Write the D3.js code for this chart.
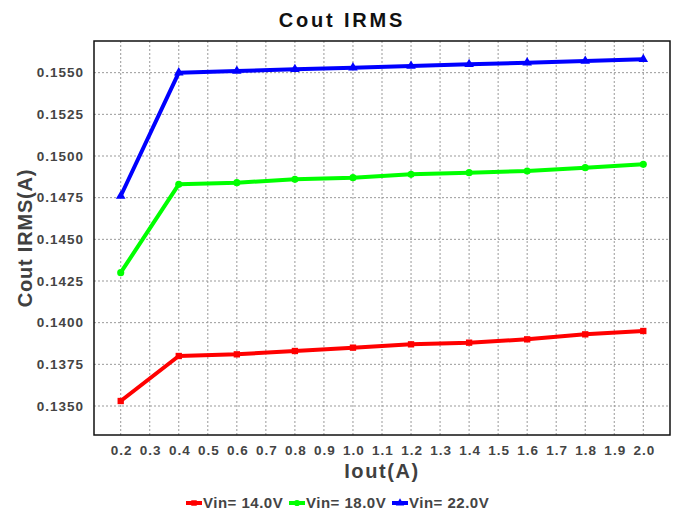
<!DOCTYPE html>
<html>
<head>
<meta charset="utf-8">
<script src="https://cdn.jsdelivr.net/npm/d3@7"></script>
<style>
  body { margin: 0; background: #fff; }
  text { font-family: "Liberation Sans", Arial, sans-serif; font-weight: bold; }
</style>
</head>
<body>
<svg id="chart" width="678" height="515"></svg>
<script>
// Chart data
const iout     = [0.2, 0.4, 0.6, 0.8, 1.0, 1.2, 1.4, 1.6, 1.8, 2.0];
const vin14    = [0.1353, 0.1380, 0.1381, 0.1383, 0.1385, 0.1387, 0.1388, 0.1390, 0.1393, 0.1395];
const vin18    = [0.1430, 0.1483, 0.1484, 0.1486, 0.1487, 0.1489, 0.1490, 0.1491, 0.1493, 0.1495];
const vin22    = [0.1476, 0.1550, 0.1551, 0.1552, 0.1553, 0.1554, 0.1555, 0.1556, 0.1557, 0.1558];
const xTicks   = [0.2, 0.3, 0.4, 0.5, 0.6, 0.7, 0.8, 0.9, 1.0, 1.1, 1.2, 1.3, 1.4, 1.5, 1.6, 1.7, 1.8, 1.9, 2.0];
const yTicks   = [0.1350, 0.1375, 0.1400, 0.1425, 0.1450, 0.1475, 0.1500, 0.1525, 0.1550];
const seriesNames = ['Vin= 14.0V', 'Vin= 18.0V', 'Vin= 22.0V'];

const series = [
  {name: seriesNames[0], values: vin14, color: '#ff0000', symbol: d3.symbolSquare},
  {name: seriesNames[1], values: vin18, color: '#00ff00', symbol: d3.symbolCircle},
  {name: seriesNames[2], values: vin22, color: '#0000ff', symbol: d3.symbolTriangle}
];

// plot frame
const frame = {left: 94, right: 670, top: 41, bottom: 435};

const svg = d3.select('#chart');

const xScale = d3.scaleLinear().domain([0.108, 2.092]).range([frame.left, frame.right]);
const yScale = d3.scaleLinear().domain([0.13326, 0.15690]).range([frame.bottom, frame.top]);

// grid lines
const grid = svg.append('g');
grid.selectAll('line.vx').data(xTicks).enter().append('line')
    .attr('x1', d => xScale(d)).attr('x2', d => xScale(d))
    .attr('y1', frame.top).attr('y2', frame.bottom)
    .attr('stroke', '#999').attr('stroke-width', 1).attr('stroke-dasharray', '2,2');
grid.selectAll('line.hy').data(yTicks).enter().append('line')
    .attr('x1', frame.left).attr('x2', frame.right)
    .attr('y1', d => yScale(d)).attr('y2', d => yScale(d))
    .attr('stroke', '#999').attr('stroke-width', 1).attr('stroke-dasharray', '2,2');

// axes (labels only, frame drawn separately)
const xAxis = d3.axisBottom(xScale).tickValues(xTicks).tickSize(0).tickPadding(10)
    .tickFormat(d3.format('.1f'));
const yAxis = d3.axisLeft(yScale).tickValues(yTicks).tickSize(0).tickPadding(10)
    .tickFormat(d3.format('.4f'));

const gx = svg.append('g').attr('transform', `translate(0,${frame.bottom})`).call(xAxis);
const gy = svg.append('g').attr('transform', `translate(${frame.left},0)`).call(yAxis);
[gx, gy].forEach(g => {
  g.select('.domain').remove();
  g.selectAll('text').attr('fill', '#444').style('font-size', '13.5px').style('font-weight', 'bold')
   .style('letter-spacing', '1px')
   .style('font-family', '"Liberation Sans", Arial, sans-serif');
});
gx.selectAll('text').attr('dy', '0.71em').attr('dx', '0.5px');

svg.append('rect')
    .attr('x', frame.left).attr('y', frame.top)
    .attr('width', frame.right - frame.left).attr('height', frame.bottom - frame.top)
    .attr('fill', 'none').attr('stroke', '#111').attr('stroke-width', 1.5);

// series lines and markers
const line = d3.line().x((d, i) => xScale(iout[i])).y(d => yScale(d));
series.forEach(s => {
  svg.append('path').datum(s.values)
     .attr('d', line).attr('fill', 'none')
     .attr('stroke', s.color).attr('stroke-width', 4).attr('stroke-linejoin', 'round');
  svg.append('g').selectAll('path').data(s.values).enter().append('path')
     .attr('d', d3.symbol().type(s.symbol).size(40))
     .attr('transform', (d, i) => `translate(${xScale(iout[i])},${yScale(d)})`)
     .attr('fill', s.color);
});

// title and axis labels
svg.append('text').attr('x', 342).attr('y', 27).attr('text-anchor', 'middle')
   .style('font-size', '20px').style('letter-spacing', '2.8px').attr('fill', '#111').text('Cout IRMS');
svg.append('text').attr('x', (frame.left + frame.right) / 2).attr('y', 478).attr('text-anchor', 'middle')
   .style('font-size', '20px').style('letter-spacing', '1.6px').attr('fill', '#404040').text('Iout(A)');
svg.append('text').attr('transform', `translate(32,${(frame.top + frame.bottom) / 2}) rotate(-90)`)
   .attr('text-anchor', 'middle').style('font-size', '20px').style('letter-spacing', '0.8px')
   .attr('fill', '#404040').text('Cout IRMS(A)');

// legend
const legendX = [186, 289, 392];
const legend = svg.append('g');
series.forEach((s, i) => {
  const g = legend.append('g').attr('transform', `translate(${legendX[i]},503)`);
  g.append('line').attr('x1', 0).attr('x2', 16).attr('stroke', s.color).attr('stroke-width', 4);
  g.append('path').attr('d', d3.symbol().type(s.symbol).size(30)).attr('transform', 'translate(8,0)')
   .attr('fill', s.color);
  g.append('text').attr('x', 17).attr('dy', '0.36em').attr('fill', '#444')
   .style('font-size', '15px').style('letter-spacing', '0.5px').text(s.name);
});
</script>
</body>
</html>
